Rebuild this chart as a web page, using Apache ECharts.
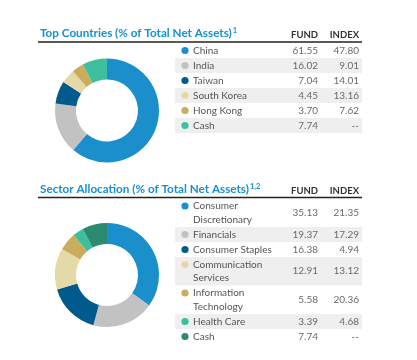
<!DOCTYPE html>
<html><head><meta charset="utf-8">
<script src="https://cdn.jsdelivr.net/npm/echarts@6/dist/echarts.min.js"></script>
<style>html,body{margin:0;padding:0;background:#fff}#c{width:417px;height:360px}</style>
</head><body><div id="c"></div>
<script>
var countries = ['China','India','Taiwan','South Korea','Hong Kong','Cash'];
var countryFund = [61.55,16.02,7.04,4.45,3.70,7.74];
var countryIndex = [47.80,9.01,14.01,13.16,7.62,null];
var countryColors = ['#1a8fcb','#c2c2c2','#005a8c','#e6d9a8','#c9ac5c','#3dbe9c'];

var sectors = ['Consumer\nDiscretionary','Financials','Consumer Staples','Communication\nServices','Information\nTechnology','Health Care','Cash'];
var sectorFund = [35.13,19.37,16.38,12.91,5.58,3.39,7.74];
var sectorIndex = [21.35,17.29,4.94,13.12,20.36,4.68,null];
var sectorColors = ['#1a8fcb','#c2c2c2','#005a8c','#e6d9a8','#c9ac5c','#3dbe9c','#2b8a70'];

var titles = ['Top Countries (% of Total Net Assets)', 'Sector Allocation (% of Total Net Assets)'];
var titleSups = ['1', '1,2'];
var headers = ['FUND', 'INDEX'];

var FONT = 'Lato';
var chart = echarts.init(document.getElementById('c'), null, {renderer:'canvas'});

function fmt(v){ return v == null ? '--' : v.toFixed(2); }

var graphics = [];
function buildTable(names, fund, index, colors, titleText, sup, top){
  graphics.push({type:'text', left:40, top: top - 15, style:{
    text: '{t|' + titleText + '}{s|' + sup + '}',
    rich:{ t:{fontFamily:FONT, fontWeight:'bold', fontSize:11.7, fill:'#1590d4', textDecoration:'underline'},
           s:{fontFamily:FONT, fontWeight:'bold', fontSize:7.5, fill:'#1590d4', verticalAlign:'top', padding:[0,0,5,1]} }
  }});
  graphics.push({type:'text', style:{x:318, y: top - 7, text: headers[0], textAlign:'right', textVerticalAlign:'middle', fontFamily:FONT, fontWeight:'bold', fontSize:9.5, fill:'#333'}});
  graphics.push({type:'text', style:{x:359, y: top - 7, text: headers[1], textAlign:'right', textVerticalAlign:'middle', fontFamily:FONT, fontWeight:'bold', fontSize:9.5, fill:'#333'}});
  graphics.push({type:'line', shape:{x1:38, y1:top, x2:362, y2:top}, style:{stroke:'#222', lineWidth:1.5}});
  var y = top + 1;
  for (var i=0;i<names.length;i++){
    var lines = names[i].split('\n').length;
    var h = lines === 1 ? 15 : 28.5;
    if (i % 2 === 1) {
      graphics.push({type:'rect', shape:{x:175, y:y, width:187, height:h}, style:{fill:'#efefef'}, z:-1});
    }
    graphics.push({type:'circle', shape:{cx:185, cy:y+7.5, r:3.6}, style:{fill:colors[i]}});
    graphics.push({type:'text', style:{x:193, y:y+1, text:names[i], fontFamily:FONT, fontSize:10, lineHeight:13.5, fill:'#555', textVerticalAlign:'top'}});
    graphics.push({type:'text', style:{x:318, y:y+h/2, text:fmt(fund[i]), textAlign:'right', textVerticalAlign:'middle', fontFamily:FONT, fontSize:10, fill:'#6a6a6a'}});
    graphics.push({type:'text', style:{x:359, y:y+h/2, text:fmt(index[i]), textAlign:'right', textVerticalAlign:'middle', fontFamily:FONT, fontSize:10, fill:'#6a6a6a'}});
    y += h;
  }
}
buildTable(countries, countryFund, countryIndex, countryColors, titles[0], titleSups[0], 42);
buildTable(sectors, sectorFund, sectorIndex, sectorColors, titles[1], titleSups[1], 197.5);

function pieData(names, vals, colors){
  return names.map(function(n,i){ return {name:n.replace('\n',' '), value:vals[i], itemStyle:{color:colors[i]}}; });
}

chart.setOption({
  animation:false,
  series:[
    {type:'pie', center:[107,110.5], radius:[31,52], startAngle:90, clockwise:true, label:{show:false}, labelLine:{show:false}, silent:true,
     itemStyle:{borderWidth:0}, data: pieData(countries, countryFund, countryColors)},
    {type:'pie', center:[107,275], radius:[31,52], startAngle:90, clockwise:true, label:{show:false}, labelLine:{show:false}, silent:true,
     itemStyle:{borderWidth:0}, data: pieData(sectors, sectorFund, sectorColors)}
  ],
  graphic: graphics
});
</script></body></html>
